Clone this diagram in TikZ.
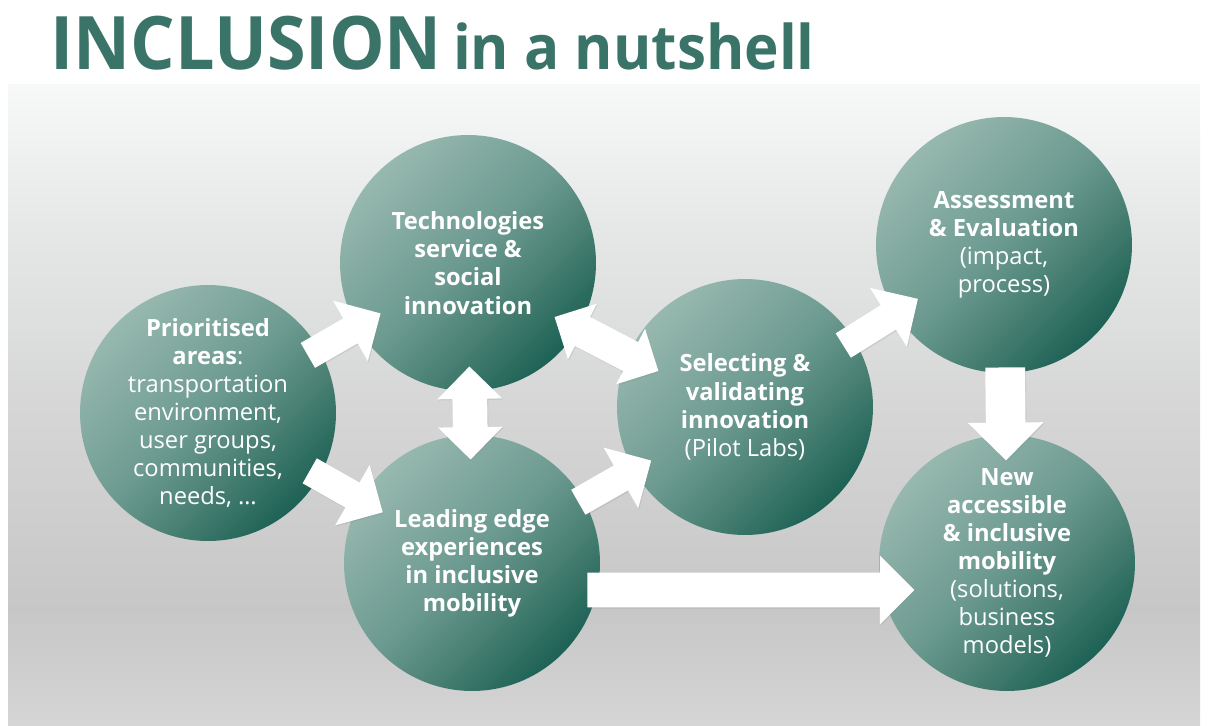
\documentclass[tikz,border=0pt]{standalone}
\usepackage{fontspec}
\setmainfont{Open Sans}
\newfontfamily\titlefont[FakeStretch=0.95]{Open Sans}
\usetikzlibrary{shapes.arrows,shadows}

\definecolor{titlegreen}{HTML}{3A7367}
\definecolor{tealA}{HTML}{97B8AF}
\definecolor{tealB}{HTML}{6C9A90}
\definecolor{tealC}{HTML}{4A8174}
\definecolor{tealD}{HTML}{1D6255}
\definecolor{panelA}{HTML}{F7F9F9}
\definecolor{panelB}{HTML}{E6E8E8}
\definecolor{panelC}{HTML}{D6D6D6}
\definecolor{panelD}{HTML}{C7C7C7}
\definecolor{panelE}{HTML}{D5D5D5}

% shadings only use the band 25bp..75bp
\pgfdeclareverticalshading{bubble}{100bp}{color(0bp)=(tealD); color(25bp)=(tealD); color(39bp)=(tealC); color(51bp)=(tealB); color(75bp)=(tealA); color(100bp)=(tealA)}
\pgfdeclareverticalshading{panel}{100bp}{color(0bp)=(panelE); color(25bp)=(panelE); color(34bp)=(panelD); color(50bp)=(panelC); color(64bp)=(panelB); color(75bp)=(panelA); color(100bp)=(panelA)}

\tikzset{
  bubble/.style={circle, minimum size=5.12cm, inner sep=0pt, shade, shading=bubble, shading angle=45,
    text=white, align=center, font=\fontsize{13.5}{16}\selectfont},
  arrowshadow/.style={drop shadow={opacity=0.18, shadow xshift=0.5pt, shadow yshift=-0.7pt}},
  fwd/.style={single arrow, fill=white, draw=none, inner xsep=0pt, inner ysep=0.28cm, minimum width=0pt,
    single arrow head extend=0.41cm, minimum height=1.68cm, sloped, allow upside down, arrowshadow},
  both/.style={double arrow, fill=white, draw=none, inner xsep=0pt, inner ysep=0.34cm, minimum width=0pt,
    double arrow head extend=0.3cm, minimum height=1.86cm, sloped, allow upside down, arrowshadow}
}

\begin{document}
\begin{tikzpicture}[x=0.02cm, y=0.02cm]
\useasboundingbox (0,0) rectangle (1208,725);
\shade[shading=panel] (8,0) rectangle (1200,640);

\node[anchor=base west, text=titlegreen, inner sep=0pt] (title) at (50,655)
  {\titlefont\bfseries\fontsize{42}{42}\selectfont INCLUSION\hspace{6.5pt}\fontsize{35}{35}\selectfont in a nutshell};

% the six stages
\node[bubble] (prio) at (208,312) {\textbf{Prioritised}\\\textbf{areas}:\\transportation\\environment,\\user groups,\\communities,\\needs, \ldots};
\node[bubble] (tech) at (468,462) {\textbf{Technologies}\\\textbf{service \&}\\\textbf{social}\\\textbf{innovation}};
\node[bubble] (lead) at (472,162) {\textbf{Leading edge}\\\textbf{experiences}\\\textbf{in inclusive}\\\textbf{mobility}};
\node[bubble] (select) at (745,318) {\textbf{Selecting \&}\\\textbf{validating}\\\textbf{innovation}\\(Pilot Labs)};
\node[bubble] (assess) at (1004,480) {\textbf{Assessment}\\\textbf{\& Evaluation}\\(impact,\\process)};
\node[bubble] (new) at (1007,162) {\textbf{New}\\\textbf{accessible}\\\textbf{\& inclusive}\\\textbf{mobility}\\(solutions,\\business\\models)};

% block arrows between them
\path (prio) -- node[fwd] (a1) {} (tech);
\path (prio) -- node[fwd] (a2) {} (lead);
\path (tech) -- node[both] (a3) {} (lead);
\path ([yshift=-0.18cm]tech.center) -- node[both, inner ysep=0.32cm, minimum height=2.34cm] (a4) {} ([yshift=-0.18cm]select.center);
\path (lead) -- node[fwd] (a5) {} (select);
\path (select) -- node[fwd, minimum height=1.76cm] (a6) {} (assess);
\path (assess) -- node[fwd, inner ysep=0.39cm, single arrow head extend=0.36cm, minimum height=1.86cm] (a7) {} (new);
\path ([yshift=-0.54cm]lead.center) -- node[fwd, pos=0.505, inner ysep=0.34cm,
  single arrow head extend=0.34cm, minimum height=6.54cm] (a8) {} ([yshift=-0.54cm]new.center);
\end{tikzpicture}
\end{document}
